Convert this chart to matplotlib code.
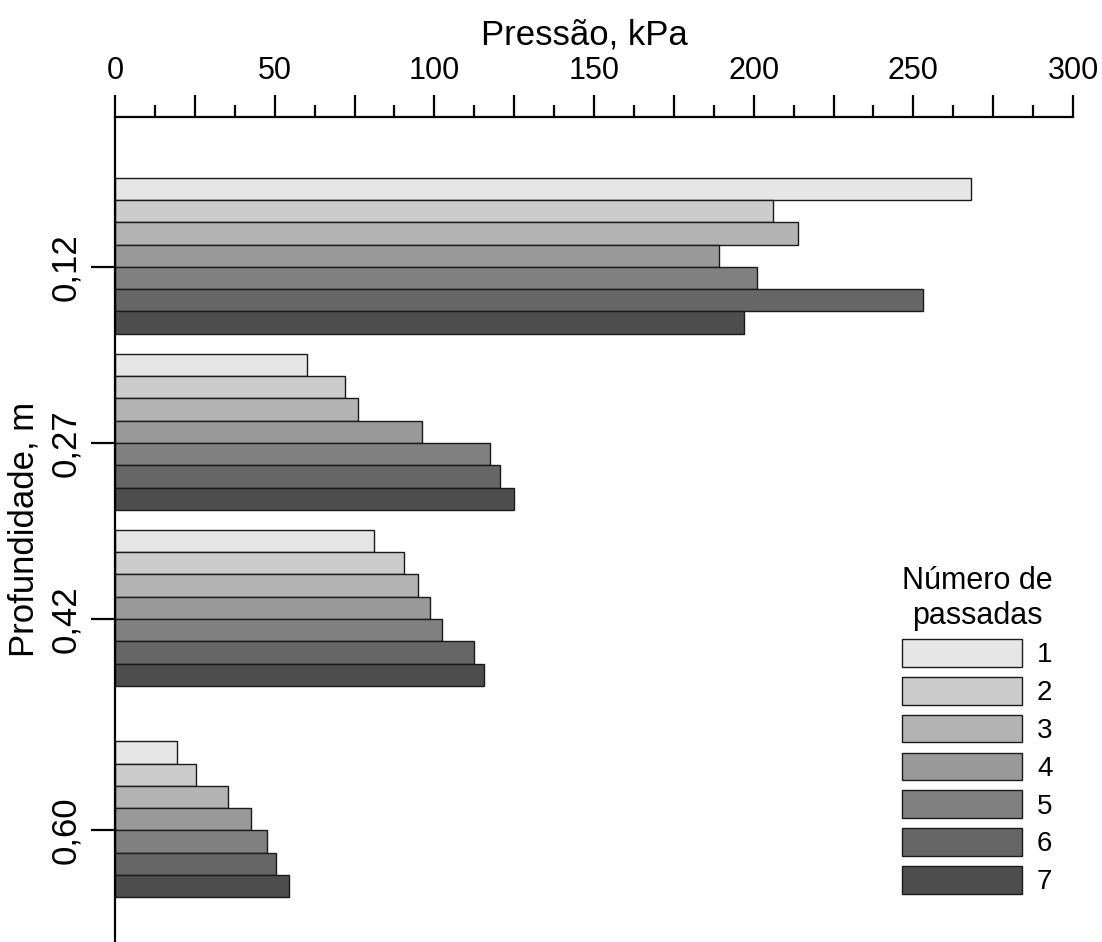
import matplotlib
matplotlib.use("Agg")
import matplotlib.pyplot as plt
from matplotlib.ticker import MultipleLocator

plt.rcParams['font.family'] = ['Liberation Sans', 'DejaVu Sans']

# profundidades (m) e pressão (kPa) por número de passadas
depths = [0.12, 0.27, 0.42, 0.60]
depth_labels = ['0,12', '0,27', '0,42', '0,60']
passes = ['1', '2', '3', '4', '5', '6', '7']
p1 = [268, 60, 81, 19.5]
p2 = [206, 72, 90.5, 25.5]
p3 = [214, 76, 95, 35.5]
p4 = [189, 96, 98.5, 42.5]
p5 = [201, 117.5, 102.5, 47.5]
p6 = [253, 120.5, 112.5, 50.5]
p7 = [197, 125, 115.5, 54.5]
series = [p1, p2, p3, p4, p5, p6, p7]
colors = ['#e6e6e6', '#cccccc', '#b3b3b3', '#999999', '#808080', '#666666', '#4d4d4d']

fig = plt.figure(figsize=(11.02, 9.42), dpi=100)
ax = fig.add_axes([115 / 1102, 0.0, (1073 - 115) / 1102, 1 - 117 / 942])

h = 0.019
for i, vals in enumerate(series):
    ypos = [d + (i - 4) * h for d in depths]
    ax.barh(ypos, vals, height=h, align='edge', color=colors[i],
            edgecolor='#1a1a1a', linewidth=1.0, label=passes[i])

ax.set_xlim(0, 300)
ax.set_ylim(0.695, -0.0076)

ax.xaxis.set_ticks_position('top')
ax.xaxis.set_label_position('top')
ax.xaxis.set_minor_locator(MultipleLocator(12.5))
ax.set_xticks([0, 25, 50, 75, 100, 125, 150, 175, 200, 225, 250, 275, 300])
ax.set_xticklabels(['0', '', '50', '', '100', '', '150', '', '200', '', '250', '', '300'])
ax.tick_params(axis='x', which='major', length=16, width=1.6, labelsize=22, pad=6)
ax.tick_params(axis='x', which='minor', length=8.5, width=1.6)

ax.set_yticks(depths)
ax.set_yticklabels(depth_labels, rotation=90, va='center')
ax.tick_params(axis='y', which='major', length=17, width=1.6, labelsize=25, pad=7)

for s in ['right', 'bottom']:
    ax.spines[s].set_visible(False)
ax.spines['top'].set_linewidth(1.6)
ax.spines['left'].set_linewidth(1.6)

ax.set_xlabel('Pressão, kPa', fontsize=25, labelpad=4)
ax.xaxis.set_label_coords(0.49, 1.088)
ax.set_ylabel('Profundidade, m', fontsize=25, labelpad=6)

leg = ax.legend(title='Número de\npassadas', loc='upper left',
                bbox_to_anchor=((902 - 115) / 958, (942 - 566) / 825),
                frameon=False, fontsize=20, title_fontsize=22,
                handlelength=4.3, handleheight=1.15, labelspacing=0.31,
                handletextpad=0.55, borderaxespad=0, borderpad=0,
                alignment='center')
leg.get_title().set_multialignment('center')

fig.savefig('out.png', dpi=100)
